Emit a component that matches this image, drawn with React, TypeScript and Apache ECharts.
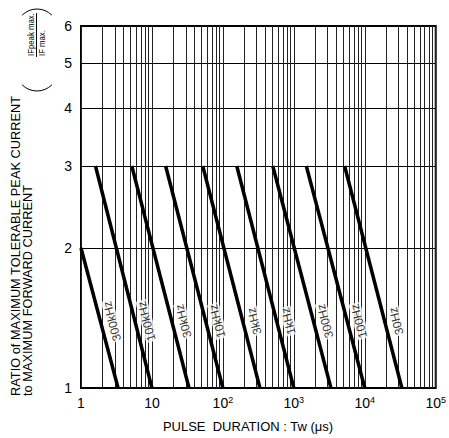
import React, { useEffect, useRef } from 'react';
import * as echarts from 'echarts';

// Repetition frequency of each limit line
const frequencies = ['300kHz', '100kHz', '30kHz', '10kHz', '3kHz', '1kHz', '300Hz', '100Hz', '30Hz'];
// Upper end of each line: pulse duration Tw (µs) and current ratio
const upperDuration = [1, 1.6, 5.2, 15.6, 52, 157, 505, 1500, 5200];
const upperRatio = [2, 3, 3, 3, 3, 3, 3, 3, 3];
// Lower end of each line: the ratio reaches 1 when Tw equals the period
const lowerDuration = [3.33, 10, 33.3, 100, 333, 1000, 3333, 10000, 33333];
const lowerRatio = [1, 1, 1, 1, 1, 1, 1, 1, 1];

// Axis labels
const durationLabels = [1, 10, 100, 1000, 10000, 100000];
const ratioLabels = [1, 2, 3, 4, 5, 6];

// Ratio at which the frequency captions sit along each line
const CAPTION_RATIO = 1.4;
const CAPTION_ROTATE = 105;

// Vertical grid: 1..9 in every decade
const durationGrid: number[] = [];
for (let e = 0; e < 5; e++) {
  for (let m = 1; m <= 9; m++) durationGrid.push(m * Math.pow(10, e));
}
durationGrid.push(100000);

// Point on a log-log segment at a given ratio
function pointAtRatio(i: number, r: number): [number, number] {
  const ly0 = Math.log10(upperRatio[i]);
  const ly1 = Math.log10(lowerRatio[i]);
  const lx0 = Math.log10(upperDuration[i]);
  const lx1 = Math.log10(lowerDuration[i]);
  const t = (ly0 - Math.log10(r)) / (ly0 - ly1);
  return [Math.pow(10, lx0 + t * (lx1 - lx0)), r];
}

// Convert a screen-space shift into the rotated label's local frame
function localOffset(dx: number, dy: number, deg: number): [number, number] {
  const a = (deg * Math.PI) / 180;
  const ex = [Math.cos(a), -Math.sin(a)];
  const ey = [Math.sin(a), Math.cos(a)];
  return [dx * ex[0] + dy * ex[1], dx * ey[0] + dy * ey[1]];
}

const FONT = '"Liberation Sans", Arial, Helvetica, sans-serif';

// Text running bottom-to-top, starting at (x, y)
function vText(text: string, x: number, y: number, size: number, stretch = 1) {
  return {
    type: 'text',
    x,
    y,
    rotation: Math.PI / 2,
    scaleX: stretch,
    style: {
      text,
      font: size + 'px ' + FONT,
      fill: '#000',
      align: 'left',
      verticalAlign: 'middle',
      textAlign: 'left',
      textVerticalAlign: 'middle',
    },
  };
}

export default function App() {
  const ref = useRef<HTMLDivElement>(null);

  useEffect(() => {
    if (!ref.current) return;
    const chart = echarts.init(ref.current, undefined, { renderer: 'svg' });

    const lineSeries = frequencies.map((f, i) => ({
      name: f,
      type: 'line' as const,
      data: [
        [upperDuration[i], upperRatio[i]],
        [lowerDuration[i], lowerRatio[i]],
      ],
      symbol: 'none',
      lineStyle: { color: '#000', width: 3.5 },
      silent: true,
      z: 3,
    }));

    const captionSeries = {
      type: 'scatter' as const,
      symbolSize: 0,
      silent: true,
      z: 4,
      data: frequencies.map((f, i) => ({ name: f, value: pointAtRatio(i, CAPTION_RATIO) })),
      label: {
        show: true,
        position: 'inside',
        formatter: '{b}',
        rotate: CAPTION_ROTATE,
        offset: localOffset(12, 1, CAPTION_ROTATE),
        color: '#000',
        fontSize: 12,
        fontFamily: FONT,
        backgroundColor: '#fff',
        padding: [0, 1, 0, 1],
      },
    };

    chart.setOption({
      animation: false,
      backgroundColor: '#fff',
      grid: {
        left: 81,
        top: 26,
        right: 6,
        bottom: 50,
        show: true,
        borderColor: '#000',
        borderWidth: 2,
        backgroundColor: 'transparent',
      },
      xAxis: {
        type: 'log',
        logBase: 10,
        min: 1,
        max: 100000,
        axisLine: { show: false },
        axisTick: { show: false, customValues: durationGrid },
        splitLine: { show: true, lineStyle: { color: '#222', width: 1 } },
        axisLabel: {
          customValues: durationLabels,
          margin: 7,
          color: '#000',
          fontSize: 14,
          fontFamily: FONT,
          lineHeight: 16,
          formatter: (v: number) => {
            const e = Math.round(Math.log10(v));
            if (e === 0) return '1';
            if (e === 1) return '10';
            return '10{sup|' + e + '}';
          },
          rich: {
            sup: { fontSize: 9, fontFamily: FONT, color: '#000', verticalAlign: 'top', lineHeight: 10 },
          },
        },
      },
      yAxis: {
        type: 'log',
        logBase: 10,
        min: 1,
        max: 6,
        axisLine: { show: false },
        axisTick: { show: false, customValues: ratioLabels },
        splitLine: { show: true, lineStyle: { color: '#000', width: 1 } },
        axisLabel: {
          customValues: ratioLabels,
          margin: 9,
          color: '#000',
          fontSize: 14,
          fontFamily: FONT,
          formatter: (v: number) => String(Math.round(v)),
        },
      },
      graphic: [
        vText('RATIO of MAXIMUM TOLERABLE PEAK CURRENT', 15, 396, 12.8),
        vText('to MAXIMUM FORWARD CURRENT', 27, 396, 12.8),
        vText('IFpeak max.', 31, 56, 9.5, 0.82),
        {
          type: 'line',
          shape: { x1: 36.5, y1: 13, x2: 36.5, y2: 57 },
          style: { stroke: '#000', lineWidth: 1 },
        },
        vText('IF max.', 42, 56, 9.5, 0.82),
        {
          type: 'arc',
          shape: { cx: 37, cy: 30, r: 21, startAngle: (-3 * Math.PI) / 4, endAngle: -Math.PI / 4, clockwise: true },
          style: { stroke: '#000', lineWidth: 1, fill: 'none' },
        },
        {
          type: 'arc',
          shape: { cx: 37, cy: 70, r: 21, startAngle: Math.PI / 4, endAngle: (3 * Math.PI) / 4, clockwise: true },
          style: { stroke: '#000', lineWidth: 1, fill: 'none' },
        },
        {
          type: 'text',
          x: 248,
          y: 426,
          style: {
            text: 'PULSE  DURATION : Tw (μs)',
            font: '13px ' + FONT,
            fill: '#000',
            align: 'center',
            verticalAlign: 'middle',
            textAlign: 'center',
            textVerticalAlign: 'middle',
          },
        },
      ],
      series: [...lineSeries, captionSeries],
    });

    return () => chart.dispose();
  }, []);

  return (
    <div
      ref={ref}
      style={{ position: 'fixed', left: 0, top: 0, width: 449, height: 438, background: '#fff' }}
    />
  );
}
